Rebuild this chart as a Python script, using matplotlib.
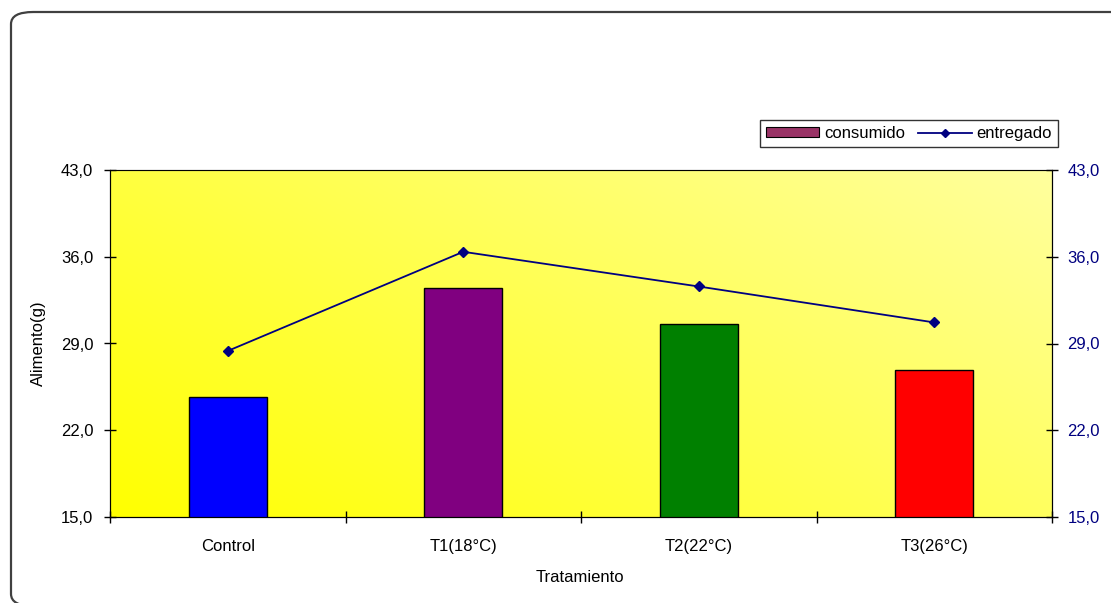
import matplotlib.pyplot as plt
import numpy as np
from matplotlib.patches import FancyBboxPatch
from matplotlib.lines import Line2D
from matplotlib.patches import Patch

categories = ["Control", "T1(18°C)", "T2(22°C)", "T3(26°C)"]
consumido = [24.7, 33.5, 30.6, 26.9]
entregado = [28.4, 36.4, 33.6, 30.7]
bar_colors = ["#0000FF", "#800080", "#008000", "#FF0000"]
y_ticks = [15, 22, 29, 36, 43]


def fmt(v):
    return ("%.1f" % v).replace(".", ",")


def main():
    plt.rcParams["font.family"] = ["Liberation Sans", "DejaVu Sans"]
    plt.rcParams["font.size"] = 12

    fig = plt.figure(figsize=(11.11, 6.03), dpi=100)
    W, H = 1111.0, 603.0

    # rounded outer frame (runs off the right and bottom edges)
    frame = FancyBboxPatch((11 / W, -3 / H), 1130 / W, 594 / H,
                           boxstyle="round,pad=0,rounding_size=0.02",
                           transform=fig.transFigure, fill=False,
                           edgecolor="#404040", linewidth=1.6)
    fig.patches.append(frame)

    ax = fig.add_axes([110 / W, 1 - 517 / H, 942 / W, 347 / H])
    x = np.arange(len(categories))
    ax.set_xlim(-0.5, len(categories) - 0.5)
    ax.set_ylim(15, 43)

    # yellow gradient background, darker at bottom-left
    gx, gy = np.meshgrid(np.linspace(0, 1, 200), np.linspace(0, 1, 200))
    t = (gx * 0.6 + gy * 0.4)
    grad = np.zeros((200, 200, 3))
    grad[..., 0] = 1.0
    grad[..., 1] = 1.0
    grad[..., 2] = t * 0.62
    ax.imshow(grad, extent=(-0.5, len(categories) - 0.5, 15, 43),
              origin="lower", aspect="auto", zorder=0)

    ax.bar(x, consumido, bottom=0, width=0.33, color=bar_colors,
           edgecolor="black", linewidth=1, zorder=2)

    ax.set_yticks(y_ticks)
    ax.set_yticklabels([fmt(v) for v in y_ticks])
    ax.tick_params(axis="y", direction="inout", length=8, width=1, pad=8)

    ax.set_xticks(np.arange(-0.5, len(categories), 1.0))
    ax.set_xticklabels([])
    ax.set_xticks(x, minor=True)
    ax.set_xticklabels(categories, minor=True)
    ax.tick_params(axis="x", which="major", direction="inout", length=8, width=1)
    ax.tick_params(axis="x", which="minor", length=0, pad=16)

    for s in ["left", "bottom", "right"]:
        ax.spines[s].set_color("black")
    ax.spines["top"].set_color("#808080")

    ax2 = ax.twinx()
    ax2.set_ylim(15, 43)
    ax2.set_yticks(y_ticks)
    ax2.set_yticklabels([fmt(v) for v in y_ticks], color="#000080")
    ax2.tick_params(axis="y", direction="inout", length=8, width=1, pad=7)
    ax2.plot(x, entregado, color="#000080", linewidth=1.3, marker="D",
             markersize=5, zorder=3)

    fig.text(38 / W, 1 - 343 / H, "Alimento(g)", rotation=90,
             ha="center", va="center")
    fig.text(580 / W, 1 - 578 / H, "Tratamiento", ha="center", va="center")

    handles = [Patch(facecolor="#993366", edgecolor="black", linewidth=0.8),
               Line2D([], [], color="#000080", linewidth=1.3, marker="D",
                      markersize=4)]
    leg = fig.legend(handles, ["consumido", "entregado"], loc="upper right",
                     bbox_to_anchor=(1058 / W, 1 - 120 / H), ncol=2,
                     frameon=True, fancybox=False, handlelength=3.2,
                     handleheight=0.5, columnspacing=0.8, handletextpad=0.3,
                     borderpad=0.35, borderaxespad=0)
    leg.get_frame().set_edgecolor("black")
    leg.get_frame().set_linewidth(1)

    plt.savefig("out.png", dpi=100)


main()
